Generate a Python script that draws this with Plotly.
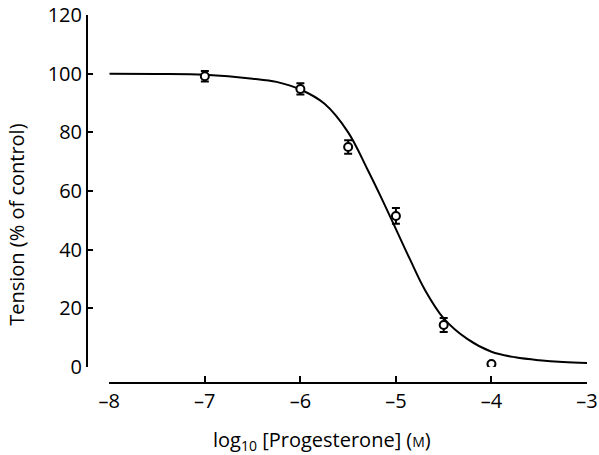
import plotly.graph_objects as go

# Data points (mean ± SEM)
log_conc = [-7.0, -6.0, -5.5, -5.0, -4.5, -4.0]
tension = [99.1, 94.8, 75.0, 51.5, 14.3, 1.0]
sem = [1.8, 1.9, 2.3, 2.7, 2.4, 0.0]

# Fitted curve
curve_x = [-8.0, -7.5, -7.0, -6.5, -6.25, -6.0, -5.75, -5.5, -5.3, -5.15, -5.0,
           -4.85, -4.7, -4.5, -4.25, -4.0, -3.75, -3.5, -3.25, -3.0]
curve_y = [100.0, 99.9, 99.6, 98.3, 97.2, 94.6, 89.8, 80.0, 67.5, 57.5, 47.0,
           36.5, 26.5, 16.6, 9.5, 5.2, 3.3, 2.3, 1.7, 1.4]

x_ticks = [-8, -7, -6, -5, -4, -3]
x_ticktext = ["\u20138", "\u20137", "\u20136", "\u20135", "\u20134", "\u20133"]
y_ticks = [0, 20, 40, 60, 80, 100, 120]

FONT = "Open Sans"

fig = go.Figure()
fig.add_trace(go.Scatter(
    x=curve_x, y=curve_y, mode="lines",
    line=dict(color="black", width=2, shape="spline", smoothing=1.0),
    hoverinfo="skip", showlegend=False))
fig.add_trace(go.Scatter(
    x=log_conc, y=tension, mode="markers",
    marker=dict(symbol="circle", size=8, color="white",
                line=dict(color="black", width=2)),
    error_y=dict(type="data", array=sem, visible=True, color="black",
                 thickness=2, width=4),
    showlegend=False))

fig.update_layout(
    width=599, height=455,
    margin=dict(l=87, r=12, t=15, b=72, autoexpand=False),
    plot_bgcolor="white", paper_bgcolor="white",
    font=dict(family=FONT, size=20, color="black"),
    xaxis=dict(range=[-8, -3], domain=[0.0446, 1], anchor="free", position=0,
               automargin=False,
               tickvals=x_ticks, ticktext=x_ticktext,
               showline=True, linecolor="black", linewidth=2,
               ticks="inside", ticklen=6, tickwidth=2, tickcolor="black",
               showgrid=False, zeroline=False,
               tickfont=dict(family=FONT, size=20, color="black")),
    yaxis=dict(range=[0, 120], domain=[0.0435, 1], anchor="free", position=0,
               automargin=False,
               tickvals=y_ticks,
               showline=True, linecolor="black", linewidth=2,
               ticks="inside", ticklen=5, tickwidth=2, tickcolor="black",
               showgrid=False, zeroline=False,
               tickfont=dict(family=FONT, size=20, color="black")),
    annotations=[
        dict(text="Tension (% of control)", textangle=-90,
             xref="paper", yref="paper", x=-0.14, y=0.43,
             xanchor="center", yanchor="middle", showarrow=False,
             font=dict(family=FONT, size=20, color="black")),
        dict(text="log<sub>10</sub> [Progesterone] (<span style='font-size:14px'>M</span>)",
             xref="paper", yref="paper", x=0.47, y=-0.155,
             xanchor="center", yanchor="middle", showarrow=False,
             font=dict(family=FONT, size=20, color="black")),
    ],
)

fig.write_html("out.html")
